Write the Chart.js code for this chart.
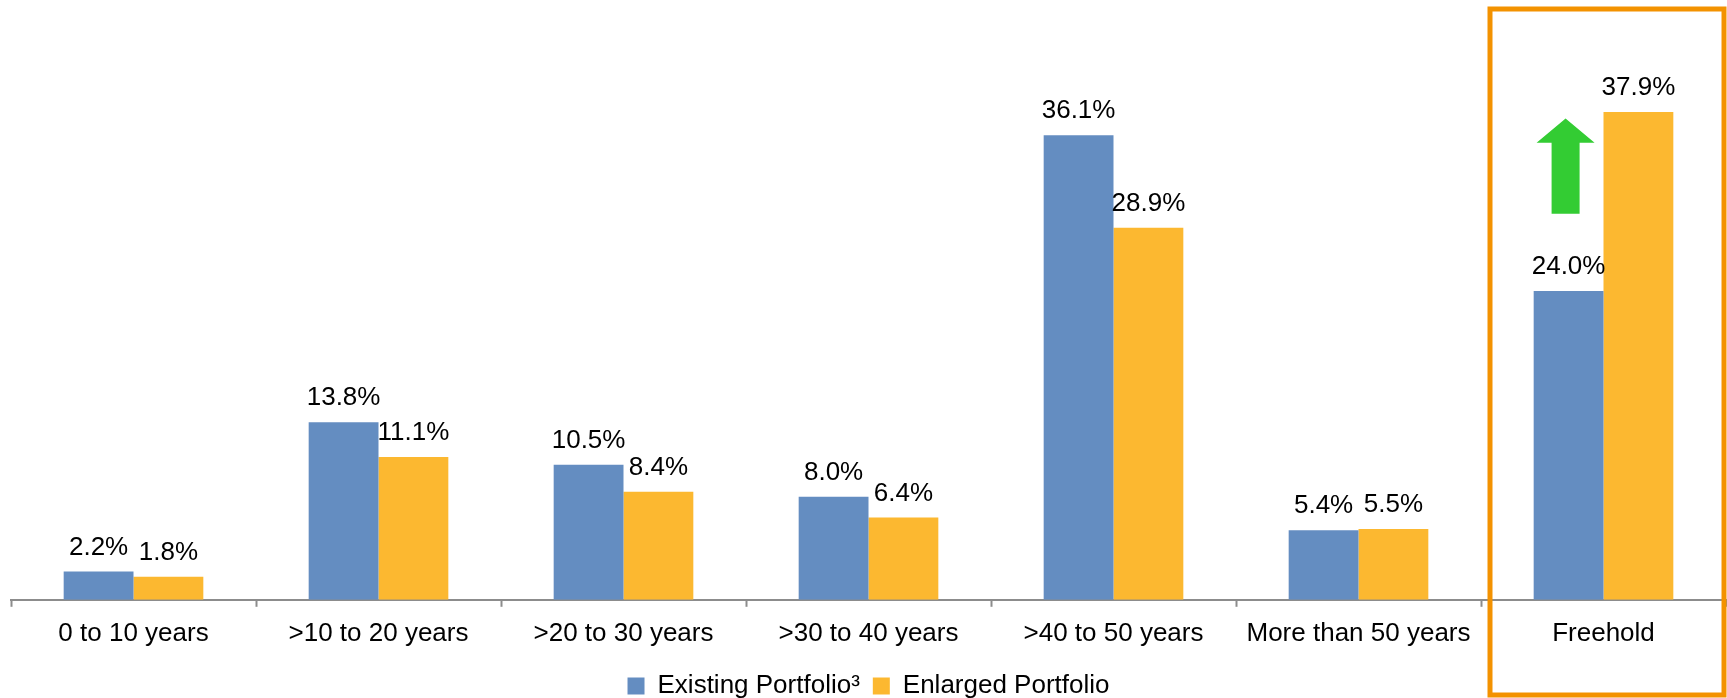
<!DOCTYPE html>
<html>
<head>
<meta charset="utf-8">
<script src="https://cdn.jsdelivr.net/npm/chart.js@4"></script>
<style>
  html, body { margin: 0; padding: 0; background: #fff; }
  #wrap { width: 1727px; height: 698px; position: relative; }
</style>
</head>
<body>
<div id="wrap"><canvas id="myChart"></canvas></div>
<script>
var categories = ['0 to 10 years', '>10 to 20 years', '>20 to 30 years', '>30 to 40 years', '>40 to 50 years', 'More than 50 years', 'Freehold'];
var existingPortfolio = [2.2, 13.8, 10.5, 8.0, 36.1, 5.4, 24.0];
var enlargedPortfolio = [1.8, 11.1, 8.4, 6.4, 28.9, 5.5, 37.9];
var seriesNames = ['Existing Portfolio\u00b3', 'Enlarged Portfolio'];

var FONT = '"Liberation Sans", Arial, sans-serif';

// value labels above each bar
var barLabels = {
    id: 'barLabels',
    afterDatasetsDraw: function(chart) {
        var ctx = chart.ctx;
        ctx.save();
        ctx.font = '26px ' + FONT;
        ctx.fillStyle = '#000';
        ctx.textAlign = 'center';
        ctx.textBaseline = 'middle';
        chart.data.datasets.forEach(function(ds, i) {
            chart.getDatasetMeta(i).data.forEach(function(bar, j) {
                ctx.fillText(ds.data[j].toFixed(1) + '%', bar.x, bar.y - 24);
            });
        });
        ctx.restore();
    }
};

// orange frame round Freehold and green up arrow
var highlight = {
    id: 'highlight',
    afterDraw: function(chart) {
        var ctx = chart.ctx;
        var xs = chart.scales.x, ys = chart.scales.y;
        var w = (xs.right - xs.left) / categories.length;
        var left = xs.getPixelForValue(6) - w / 2 + 9;
        ctx.save();
        ctx.strokeStyle = '#F39200';
        ctx.lineWidth = 5;
        ctx.strokeRect(left, 9, chart.width - 3 - left, chart.height - 12);

        var cx = chart.getDatasetMeta(0).data[6].x - 3;
        var tip = ys.getPixelForValue(37.4);
        var base = ys.getPixelForValue(35.5);
        var bottom = ys.getPixelForValue(30.0);
        ctx.fillStyle = '#33CC33';
        ctx.beginPath();
        ctx.moveTo(cx, tip);
        ctx.lineTo(cx + 29, base);
        ctx.lineTo(cx + 14, base);
        ctx.lineTo(cx + 14, bottom);
        ctx.lineTo(cx - 14, bottom);
        ctx.lineTo(cx - 14, base);
        ctx.lineTo(cx - 29, base);
        ctx.closePath();
        ctx.fill();
        ctx.restore();
    }
};

var ctx = document.getElementById('myChart').getContext('2d');
var myChart = new Chart(ctx, {
    type: 'bar',
    data: {
        labels: categories,
        datasets: [{
            label: seriesNames[0],
            data: existingPortfolio,
            backgroundColor: '#648DC1'
        }, {
            label: seriesNames[1],
            data: enlargedPortfolio,
            backgroundColor: '#FCB830'
        }]
    },
    options: {
        responsive: true,
        maintainAspectRatio: false,
        animation: false,
        layout: { padding: { left: 11, right: 1, top: 0, bottom: -11 } },
        datasets: {
            bar: { barPercentage: 1.0, categoryPercentage: 0.57 }
        },
        plugins: {
            legend: {
                position: 'bottom',
                labels: {
                    boxWidth: 17,
                    boxHeight: 17,
                    padding: 13,
                    color: '#000',
                    font: { family: FONT, size: 26 }
                }
            },
            tooltip: { enabled: false }
        },
        scales: {
            x: {
                grid: {
                    drawOnChartArea: false,
                    drawTicks: true,
                    tickLength: 7,
                    tickColor: '#8C8C8C',
                    tickWidth: 2
                },
                border: { color: '#8C8C8C', width: 2 },
                ticks: {
                    color: '#000',
                    padding: 11,
                    maxRotation: 0,
                    autoSkip: false,
                    font: { family: FONT, size: 26 }
                }
            },
            y: {
                display: false,
                min: 0,
                max: 46.6
            }
        }
    },
    plugins: [barLabels, highlight]
});
</script>
</body>
</html>
